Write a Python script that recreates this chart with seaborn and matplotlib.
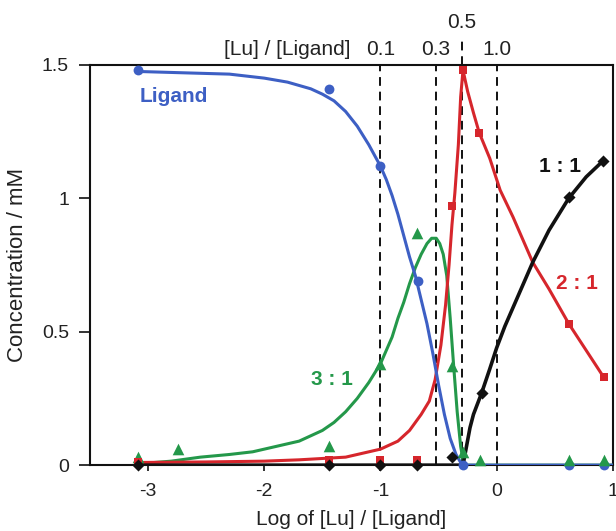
import numpy as np
import seaborn as sns
import matplotlib.pyplot as plt
import matplotlib.transforms as mtransforms

# measured points (log ratio, concentration mM)
lig_x = [-3.09, -1.44, -1.0, -0.68, -0.29, 0.62, 0.92]
lig_y = [1.48, 1.41, 1.12, 0.69, 0.0, 0.0, 0.0]

c31_x = [-3.09, -2.74, -1.44, -1.0, -0.69, -0.385, -0.29, -0.14, 0.62, 0.92]
c31_y = [0.03, 0.06, 0.07, 0.38, 0.87, 0.37, 0.05, 0.02, 0.02, 0.02]

c21_x = [-3.09, -1.44, -1.0, -0.69, -0.385, -0.29, -0.15, 0.62, 0.92]
c21_y = [0.01, 0.02, 0.02, 0.02, 0.97, 1.48, 1.245, 0.53, 0.33]

c11_x = [-3.09, -1.44, -1.0, -0.69, -0.385, -0.13, 0.62, 0.915]
c11_y = [0.0, 0.0, 0.0, 0.0, 0.03, 0.27, 1.005, 1.14]

# fitted curves
lig_fx = [-3.09, -2.7, -2.3, -2.0, -1.8, -1.6, -1.5, -1.4, -1.3, -1.2, -1.1, -1.0,
          -0.95, -0.9, -0.85, -0.8, -0.75, -0.7, -0.65, -0.6, -0.55, -0.5, -0.45,
          -0.4, -0.35, -0.31, -0.28, 1.0]
lig_fy = [1.475, 1.47, 1.465, 1.45, 1.435, 1.41, 1.39, 1.365, 1.325, 1.27, 1.2, 1.12,
          1.07, 1.01, 0.94, 0.86, 0.78, 0.71, 0.62, 0.53, 0.42, 0.30, 0.19,
          0.10, 0.04, 0.01, 0.0, 0.0]

c31_fx = [-3.09, -2.8, -2.55, -2.3, -2.1, -1.9, -1.7, -1.5, -1.4, -1.3, -1.2, -1.1, -1.0,
          -0.95, -0.9, -0.85, -0.8, -0.75, -0.7, -0.65, -0.6, -0.56, -0.52, -0.49,
          -0.46, -0.43, -0.40, -0.37, -0.34, -0.31, -0.29, -0.27, 1.0]
c31_fy = [0.005, 0.015, 0.03, 0.04, 0.05, 0.07, 0.09, 0.13, 0.16, 0.2, 0.25, 0.31, 0.38,
          0.43, 0.48, 0.55, 0.61, 0.68, 0.74, 0.79, 0.83, 0.85, 0.85, 0.83,
          0.79, 0.71, 0.55, 0.37, 0.2, 0.07, 0.02, 0.0, 0.0]

c21_fx = [-3.09, -2.5, -2.0, -1.7, -1.3, -1.0, -0.85, -0.75, -0.65, -0.58, -0.53, -0.48,
          -0.44, -0.41, -0.385, -0.36, -0.33, -0.31, -0.29, -0.25, -0.2, -0.15, -0.06,
          0.03, 0.14, 0.31, 0.45, 0.62, 0.77, 0.92]
c21_fy = [0.01, 0.012, 0.015, 0.02, 0.03, 0.06, 0.09, 0.13, 0.19, 0.24, 0.32, 0.45,
          0.6, 0.75, 0.9, 1.02, 1.2, 1.38, 1.48, 1.40, 1.32, 1.245, 1.15,
          1.03, 0.93, 0.76, 0.66, 0.53, 0.43, 0.33]

c11_fx = [-3.09, -0.29, -0.26, -0.23, -0.2, -0.13, -0.06, 0.0, 0.07, 0.14, 0.22, 0.31,
          0.45, 0.62, 0.77, 0.915]
c11_fy = [0.0, 0.0, 0.07, 0.14, 0.19, 0.27, 0.36, 0.44, 0.52, 0.59, 0.67, 0.76,
          0.88, 1.0, 1.08, 1.14]

ratio_ticks = [0.1, 0.3, 0.5, 1.0]
ratio_labels = ["0.1", "0.3", "0.5", "1.0"]

blue = "#3d5fc4"
green = "#24984a"
red = "#d6262c"
black = "#111111"

sns.set_style("ticks")
plt.rcParams['font.family'] = ['Liberation Sans', 'DejaVu Sans']
plt.rcParams['axes.unicode_minus'] = False

fig = plt.figure(figsize=(6.16, 5.31), dpi=100)
ax = fig.add_axes([0.146, 0.124, 0.849, 0.754])

# dashed guides at the metal/ligand ratios
for r in ratio_ticks:
    ax.axvline(np.log10(r), color=black, lw=1.4, ls=(0, (4.5, 3)), zorder=1)

trans = mtransforms.blended_transform_factory(ax.transData, ax.transAxes)
ax.plot([np.log10(0.5)] * 2, [1.0, 1.065], transform=trans, color=black, lw=1.4,
        ls=(0, (4.5, 3)), clip_on=False)

# fitted curves
sns.lineplot(x=c31_fx, y=c31_fy, ax=ax, color=green, lw=2.2, sort=False, estimator=None, zorder=3)
sns.lineplot(x=c21_fx, y=c21_fy, ax=ax, color=red, lw=2.2, sort=False, estimator=None, zorder=3)
sns.lineplot(x=lig_fx, y=lig_fy, ax=ax, color=blue, lw=2.2, sort=False, estimator=None, zorder=3)
sns.lineplot(x=c11_fx, y=c11_fy, ax=ax, color=black, lw=2.6, sort=False, estimator=None, zorder=4)

# experimental points
sns.scatterplot(x=lig_x, y=lig_y, ax=ax, marker='o', s=50, color=blue, linewidth=0, zorder=5, clip_on=False)
sns.scatterplot(x=c31_x, y=c31_y, ax=ax, marker='^', s=70, color=green, linewidth=0, zorder=5, clip_on=False)
sns.scatterplot(x=c21_x, y=c21_y, ax=ax, marker='s', s=40, color=red, linewidth=0, zorder=5, clip_on=False)
sns.scatterplot(x=c11_x, y=c11_y, ax=ax, marker='D', s=38, color=black, linewidth=0, zorder=6, clip_on=False)

# species labels
ax.text(-3.07, 1.38, "Ligand", color=blue, fontsize=15, fontweight='bold', ha='left', va='center')
ax.text(-1.42, 0.32, "3 : 1", color=green, fontsize=15, fontweight='bold', ha='center', va='center')
ax.text(0.69, 0.68, "2 : 1", color=red, fontsize=15, fontweight='bold', ha='center', va='center')
ax.text(0.545, 1.12, "1 : 1", color=black, fontsize=15, fontweight='bold', ha='center', va='center')

# top ratio labels
for r, lab in zip(ratio_ticks, ratio_labels):
    yy = 1.105 if lab == "0.5" else 1.038
    ax.text(np.log10(r), yy, lab, transform=trans, fontsize=15, ha='center', va='center', color="#222222")
ax.text(-1.26, 1.038, "[Lu] / [Ligand]", transform=trans, fontsize=15, ha='right', va='center', color="#222222")

ax.set_xlim(-3.5, 1.0)
ax.set_ylim(0, 1.5)
ax.set_xticks([-3, -2, -1, 0, 1])
ax.set_xticklabels(["-3", "-2", "-1", "0", "1"])
ax.set_yticks([0, 0.5, 1, 1.5])
ax.set_yticklabels(["0", "0.5", "1", "1.5"])
ax.tick_params(axis='both', labelsize=14, colors="#222222", width=1.3)
ax.tick_params(axis='y', length=8, pad=7)
ax.tick_params(axis='x', length=4, pad=9)

for sp in ax.spines.values():
    sp.set_visible(True)
    sp.set_linewidth(1.5)
    sp.set_color(black)

ax.set_xlabel("Log of [Lu] / [Ligand]", fontsize=15, labelpad=7, color="#222222")
ax.set_ylabel("Concentration / mM", fontsize=16, labelpad=10, color="#222222")

fig.savefig("out.png", dpi=100)
